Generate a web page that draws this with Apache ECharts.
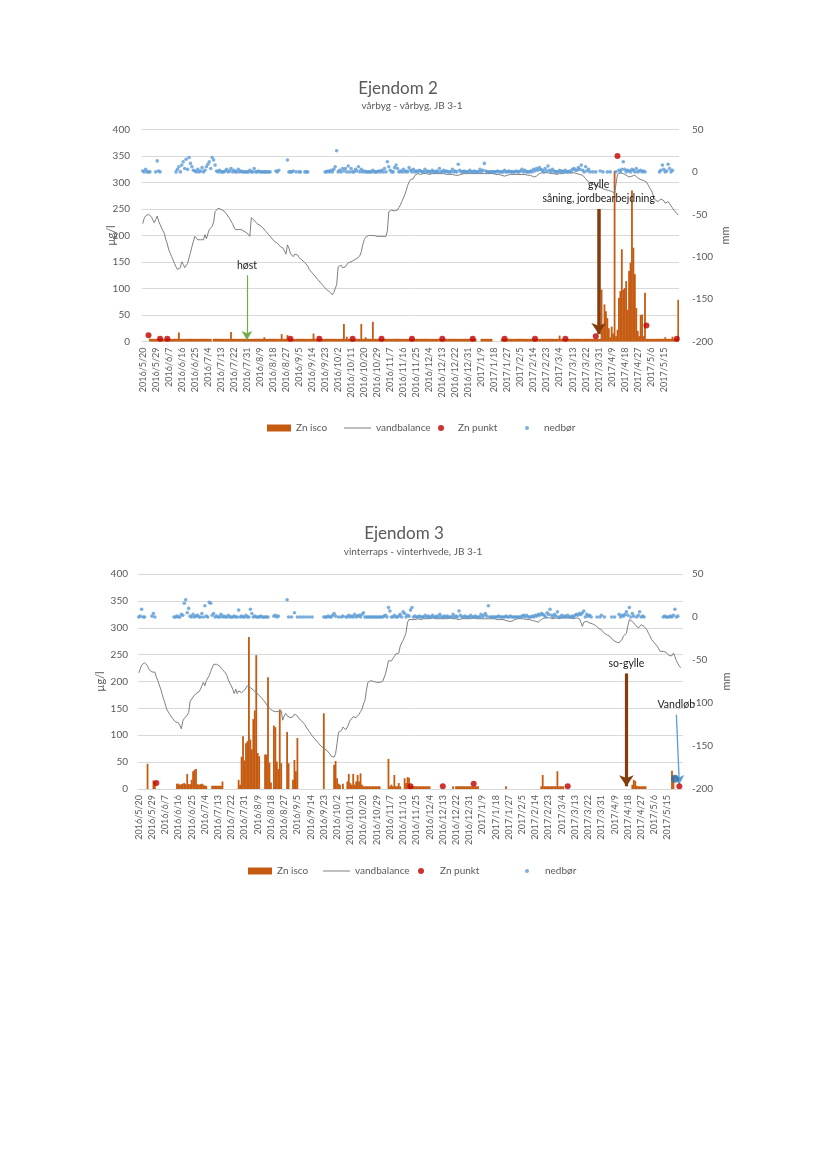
<!DOCTYPE html>
<html>
<head>
<meta charset="utf-8">
<script src="https://cdn.jsdelivr.net/npm/echarts/dist/echarts.min.js"></script>
<style>
html,body{margin:0;padding:0;background:#ffffff;}
#chart{width:826px;height:1169px;}
</style>
</head>
<body>
<div id="chart"></div>
<script>
// ---------- categories (daily, 2016/5/20 ...) ----------
const dayCount = 371;
const labelStep = 9;
const lastLabelDay = 360;
const categories = (function () {
  const out = [];
  const d = new Date(Date.UTC(2016, 4, 20));
  for (let i = 0; i < dayCount; i++) {
    out.push(d.getUTCFullYear() + '/' + (d.getUTCMonth() + 1) + '/' + d.getUTCDate());
    d.setUTCDate(d.getUTCDate() + 1);
  }
  return out;
})();

// ---------- Ejendom 2 ----------
const znIsco2 = [
null,null,null,null,null,5,5,5,5,5,
5,5,5,5,5,5,5,5,5,5,
5,5,5,5,5,17,5,5,5,5,
5,5,5,5,5,5,5,5,5,5,
5,5,5,5,5,5,5,5,null,5,
5,5,5,5,5,5,5,5,5,5,
5,18,5,5,5,5,5,5,5,5,
5,5,5,5,5,5,5,5,5,5,
5,5,5,5,8,5,5,5,5,5,
5,5,5,5,5,5,14,5,5,5,
12,5,5,5,5,5,5,5,5,5,
5,5,5,5,5,5,5,5,15,5,
5,5,5,5,5,5,5,5,5,5,
5,5,5,5,5,5,5,5,5,33,
5,9,5,5,5,5,5,5,5,5,
5,33,5,5,8,5,5,5,5,37,
5,5,5,5,5,5,5,5,5,5,
5,5,5,5,5,5,5,5,5,5,
5,5,5,5,5,5,5,5,5,5,
5,5,5,5,5,5,5,5,5,5,
5,5,5,5,5,5,5,5,5,5,
5,5,5,5,5,5,5,5,5,5,
5,5,5,5,5,5,5,5,5,5,
5,null,null,null,5,5,5,5,5,5,
5,5,null,null,null,null,null,null,5,5,
5,5,5,5,5,5,5,5,5,5,
5,5,5,5,5,5,5,5,5,5,
5,5,5,5,5,5,5,5,5,5,
5,5,5,5,5,5,5,5,11,5,
5,5,5,5,5,5,5,5,5,5,
5,5,5,5,5,5,5,5,5,5,
5,5,5,5,5,5,5,98,30,70,
57,44,25,8,28,15,322,10,22,82,
95,174,98,101,114,60,133,149,285,177,
127,63,20,10,50,51,10,92,5,5,
5,5,5,5,5,5,5,5,5,5,
5,8,5,5,5,5,9,5,5,5,79
];
const vandbalance2 = [
-61,-55,-52,-50,-50,-51,-53,-55,-60,-56,
-52,-58,-62,-66,-68,-73,-80,-85,-92,-96,
-100,-104,-108,-112,-115,-117,-113,-106,-109,-113,
-115,-108,-101,-95,-88,-82,-76,-78,-80,-80,
-80,-79,-80,-74,-79,-73,-68,-66,-64,-59,
-47,-45,-43,-43,-44,-45,-46,-47,-50,-52,
-55,-58,-61,-65,-68,-66,-68,-70,-68,-68,
-70,-70,-72,-74,-76,-54,-55,-57,-59,-61,
-62,-63,-64,-66,-68,-70,-72,-74,-76,-78,
-80,-82,-83,-84,-86,-88,-88,-90,-92,-97,
-86,-90,-96,-98,-100,-97,-96,-98,-101,-102,
-104,-106,-107,-109,-111,-115,-117,-119,-121,-123,
-125,-127,-129,-131,-133,-135,-137,-139,-141,-141,
-143,-145,-142,-140,-133,-112,-110,-110,-113,-115,
-112,-110,-107,-105,-106,-105,-104,-103,-102,-101,
-99,-94,-86,-80,-77,-75,-75,-75,-75,-75,
-75,-75,-76,-76,-76,-76,-76,-76,-76,-70,
-47,-46,-45,-45,-46,-46,-45,-42,-39,-35,
-31,-27,-22,-16,-12,-9,-9,-8,-4,-3,
-2,-2,-3,-2,-2,-1,-2,-2,-3,-2,
-2,-2,-2,-3,-2,-2,-2,-2,-2,-3,
-3,-3,-3,-3,-3,-3,-4,-4,-4,-4,
-3,-3,-2,-2,-2,-2,-2,-2,-2,-2,
-2,-2,-2,-2,-2,-3,-2,-2,-2,-2,
-2,-2,-2,-3,-3,-3,-3,-3,-4,-5,
-5,-5,-4,-3,-3,-3,-3,-3,-3,-3,
-3,-3,-3,-3,-3,-3,-4,-4,-4,-5,
-6,-6,-5,-3,-2,-1,-1,-1,-1,-1,
-1,-1,-2,-2,-2,-3,-3,-2,-2,-3,
-2,-1,-1,0,-1,-2,-1,0,-1,-2,
-2,-2,-3,-3,-4,-6,-8,-10,-12,-13,
-14,-14,-15,-15,-16,-17,-18,-19,-20,-20,
-21,-21,-22,-23,-23,-24,-25,-14,-3,-1,
-1,-2,-2,-3,-4,-5,-6,-6,-5,-5,
-4,-5,-7,-8,-9,-10,-10,-11,-12,-15,
-18,-21,-24,-30,-33,-34,-35,-33,-32,-31,
-34,-37,-36,-35,-37,-40,-42,-45,-47,-49,-51
];
const znPunkt2 = [[4,12],[12,5],[17,5],[102,5],[122,5],[145,5],[165,5],[186,5],[207,5],[228,5],[250,5],[271,5],[292,5],[313,10],[328,350],[348,30],[369,5]];
const nedbor2 = [
1,0,3,0,0,0,null,null,null,0,
13,1,0,null,null,null,null,null,null,null,
null,null,null,0,3,6,0,8,12,4,
15,3,17,10,6,2,1,0,3,0,
1,5,0,2,6,9,12,4,17,14,
8,1,0,2,0,0,0,1,3,0,
1,4,0,2,0,0,3,0,1,0,
0,0,0,0,2,0,0,4,0,0,
1,0,0,0,0,0,0,0,0,null,
null,null,1,0,2,null,null,null,null,null,
14,0,0,0,1,null,0,null,0,0,
null,null,0,0,0,null,null,null,null,null,
null,null,null,null,null,null,0,0,1,0,
2,0,3,6,25,0,2,0,4,1,
4,0,7,0,4,0,0,3,1,6,
0,3,0,1,0,0,0,0,0,2,
0,0,0,1,0,2,0,4,0,12,
6,2,0,0,5,8,4,0,1,0,
3,0,1,0,5,2,0,3,0,1,
0,2,1,0,0,3,0,1,0,0,
2,0,0,1,0,4,0,0,2,0,
1,0,0,0,3,0,1,0,9,2,
0,0,1,0,0,0,2,0,0,1,
0,0,0,3,0,2,10,1,0,0,
0,0,0,0,0,1,0,0,0,0,
2,0,0,1,0,0,0,0,1,0,
0,1,3,0,2,0,0,0,1,0,
3,1,4,2,5,3,2,0,4,1,
7,2,0,3,1,0,0,0,2,0,
1,0,2,0,0,1,0,3,4,2,
2,5,3,8,2,0,6,1,3,0,
null,0,null,0,null,null,1,null,0,null,
null,0,null,0,null,null,null,0,null,2,
0,3,12,3,0,2,1,0,3,2,
0,4,0,1,2,0,1,0,null,null,
null,null,null,null,null,null,null,0,2,8,
3,0,1,9,4,0,2,null,null,null,null
];

// ---------- Ejendom 3 ----------
const znIsco3 = [
null,null,null,null,null,null,47,null,null,null,
16,14,null,null,null,null,null,null,null,null,
null,null,null,null,null,null,10,10,8,9,
10,11,9,28,9,9,17,33,36,37,
9,8,9,10,8,6,6,null,null,null,
6,6,6,6,6,6,6,14,null,null,
null,null,null,null,null,null,null,null,17,8,
60,98,53,85,89,283,92,74,130,146,
249,67,61,null,null,null,64,64,208,49,
12,null,118,115,51,37,148,48,null,null,
null,106,48,null,null,17,54,33,95,null,
null,null,null,null,null,null,null,null,null,null,
null,null,null,null,null,null,141,null,null,null,
null,null,null,45,52,20,10,8,null,10,
null,null,14,28,11,8,28,8,14,26,
14,29,8,5,5,5,5,5,5,5,
5,5,5,5,5,null,null,null,null,null,
56,5,8,5,26,5,5,11,5,null,
null,20,11,22,21,5,5,5,5,5,
5,5,5,5,5,5,5,5,5,null,
null,null,null,null,null,null,null,null,null,null,
null,null,null,null,5,null,5,5,5,5,
5,5,5,5,5,5,5,5,5,5,
5,5,null,null,null,null,null,null,null,null,
null,null,null,null,null,null,null,null,null,null,
5,null,null,null,null,null,null,null,null,null,
null,null,null,null,null,null,null,null,null,null,
null,null,null,null,5,26,5,5,5,5,
5,5,5,5,5,33,5,5,5,5,
null,null,null,null,null,null,null,null,null,null,
null,null,null,null,null,null,null,null,null,null,
null,null,null,null,null,null,null,null,null,null,
null,null,null,null,null,null,null,null,null,null,
null,null,null,null,null,null,8,17,15,6,
5,5,5,5,5,5,null,null,null,null,
null,null,null,null,null,null,null,null,null,null,
null,null,null,34,23,null,null,null,null,null,null
];
const vandbalance3 = [
-65,-63,-56,-54,-53,-55,-57,-61,-63,-64,
-63,-64,-70,-74,-79,-84,-90,-96,-101,-107,
-110,-113,-115,-118,-120,-122,-121,-123,-126,-130,
-121,-118,-116,-114,-111,-98,-96,-93,-95,-89,
-88,-87,-84,-80,-76,-80,-74,-71,-68,-63,
-59,-55,-55,-55,-56,-57,-58,-61,-63,-65,
-68,-73,-77,-80,-84,-89,-84,-89,-86,-85,
-88,-86,-85,-84,-80,-81,-82,-84,-85,-87,
-88,-90,-91,-93,-95,-97,-99,-102,-104,-106,
-107,-109,-110,-110,-110,-110,-109,-109,-120,-115,
-112,-115,-117,-117,-116,-116,-113,-113,-115,-118,
-119,-121,-122,-125,-128,-130,-133,-135,-138,-140,
-142,-144,-146,-148,-150,-151,-153,-154,-155,-157,
-159,-162,-163,-163,-159,-147,-134,-133,-132,-128,
-129,-131,-128,-126,-120,-118,-116,-118,-117,-116,
-113,-110,-107,-101,-97,-85,-76,-74,-74,-74,
-75,-75,-76,-76,-76,-75,-75,-74,-66,-59,
-51,-51,-51,-49,-46,-43,-42,-42,-34,-30,
-27,-23,-18,-6,-3,-1,-3,-3,-3,-3,
-2,-2,-3,-2,-2,-3,-2,-2,-2,-2,
-1,-2,-2,-3,-2,-2,-2,-2,-2,-2,
-2,-2,-1,-2,-2,-2,-2,-2,-3,-2,
-2,-2,-2,-2,-2,-2,-2,-2,-1,-2,
-2,-2,-2,-2,-2,-2,-2,-2,-2,-2,
-2,-2,-2,-3,-3,-3,-3,-3,-3,-3,
-4,-5,-5,-6,-5,-4,-3,-2,-2,-2,
-2,-2,-2,-2,-3,-3,-3,-3,-4,-4,
-5,-5,-6,-5,-3,-2,-1,-1,-1,-1,
-1,-1,-2,-2,-1,-1,-2,-2,-1,-1,
-1,-2,-1,-1,-1,-2,-2,-1,-1,-1,
-2,-6,-11,-6,-4,-5,-6,-7,-7,-8,
-9,-10,-11,-13,-14,-15,-17,-19,-20,-21,
-22,-23,-25,-27,-28,-29,-30,-30,-30,-26,
-22,-21,-19,-10,-3,-4,-5,-7,-9,-11,
-13,-11,-9,-10,-11,-12,-15,-19,-22,-26,
-28,-30,-32,-34,-37,-40,-42,-40,-38,-41,
-43,-45,-47,-45,-42,-46,-51,-54,-57,-59,null
];
const znPunkt3 = [[12,11],[185,5],[207,5],[228,10],[292,5],[368,5]];
const vandlob3 = [[365,19]];
const nedbor3 = [
0,1,9,0,0,null,null,null,null,1,
4,0,null,null,null,null,null,null,null,null,
null,null,null,null,0,0,1,0,0,3,
2,16,20,5,10,1,0,3,0,1,
2,0,0,4,0,13,1,0,17,16,
2,4,0,1,0,0,3,0,1,0,
0,2,0,0,0,1,0,0,8,0,
1,0,0,2,0,0,9,4,0,1,
0,0,0,1,0,0,0,0,0,null,
null,null,1,2,0,1,null,null,null,null,
null,20,0,null,0,null,5,null,0,null,
0,null,0,null,0,null,0,null,0,null,
null,null,null,null,null,null,0,0,0,1,
0,0,2,4,1,null,0,null,0,1,
null,0,0,2,0,1,0,3,0,1,
2,0,3,5,0,0,0,0,0,0,
0,0,0,0,0,0,0,1,2,0,
11,7,0,0,2,0,0,1,3,0,
6,4,0,2,1,8,11,0,1,0,
0,1,0,0,0,2,0,1,0,0,
2,0,0,1,0,3,0,0,1,0,
1,0,0,0,3,0,1,0,7,2,
0,0,1,0,0,0,2,0,0,1,
0,0,0,3,0,2,4,1,13,0,
0,0,0,0,0,1,0,0,0,0,
1,0,0,1,0,0,0,0,0,0,
0,1,2,0,2,0,0,0,1,0,
2,1,3,2,4,3,2,0,5,3,
9,2,0,3,1,6,0,0,2,0,
1,0,2,0,0,1,0,2,3,2,
4,3,5,7,0,3,1,2,0,null,
null,null,0,null,0,2,null,0,null,null,
null,null,0,null,0,null,null,3,0,2,
1,3,6,2,11,0,4,1,null,0,
2,6,0,1,0,null,null,null,null,null,
null,null,null,null,null,null,null,0,1,0,
0,0,1,0,2,9,0,1,null,null,null
];

// ---------- texts / annotations (data coordinates) ----------
const titles = ['Ejendom 2', 'Ejendom 3'];
const subtitles = ['vårbyg - vårbyg, JB 3-1', 'vinterraps - vinterhvede, JB 3-1'];
const seriesNames = ['Zn isco', 'vandbalance', 'Zn punkt', 'nedbør'];
const leftAxisName = 'µg/l';
const rightAxisName = 'mm';
const notes2 = [
  { text: 'høst', day: 72, dayTo: 72, from: 125, to: 3 },
  { text: 'gylle\nsåning, jordbearbejdning', day: 315, dayTo: 315, from: 250, to: 14 }
];
const notes3 = [
  { text: 'so-gylle', day: 332, dayTo: 332, from: 215, to: 5 },
  { text: 'Vandløb', day: 366, dayTo: 368, from: 138, to: 9 }
];

// ---------- checks ----------
[['znIsco2', znIsco2], ['vandbalance2', vandbalance2], ['nedbor2', nedbor2],
 ['znIsco3', znIsco3], ['vandbalance3', vandbalance3], ['nedbor3', nedbor3]].forEach(function (p) {
  if (p[1].length !== dayCount) throw new Error(p[0] + ' length ' + p[1].length);
});

// ---------- styles ----------
const FONT = 'Lato, "Open Sans", "DejaVu Sans", sans-serif';
const C_BAR = '#C55A11', C_LINE = '#7F7F7F', C_RED = '#C00000', C_BLUE = '#5B9BD5';
const noteStyles2 = [
  { color: '#70AD47', width: 1.2, arrow: [8, 9] },
  { color: '#843C0C', width: 3.5, arrow: [11, 11] }
];
const noteStyles3 = [
  { color: '#843C0C', width: 3.2, arrow: [11, 11] },
  { color: '#5B9BD5', width: 1.3, arrow: [8, 9] }
];

function pairs(list) { return list.map(function (p) { return [categories[p[0]], p[1]]; }); }
function seriesPoints(arr) {
  const out = [];
  arr.forEach(function (v, i) { if (v !== null) out.push([categories[i], v]); });
  return out;
}
function noteLines(notes, styles) {
  return notes.map(function (n, k) {
    const st = styles[k];
    return [
      { coord: [categories[n.day], n.from], symbol: 'none',
        lineStyle: { color: st.color, width: st.width, type: 'solid' },
        label: { show: true, position: 'start', formatter: n.text, color: '#1a1a1a',
                 fontSize: 10.5, fontFamily: FONT, distance: 3, lineHeight: 14, align: 'center' } },
      { coord: [categories[n.dayTo], n.to], symbol: 'arrow', symbolSize: st.arrow }
    ];
  });
}

const grids = [
  { left: 142, top: 129.5, width: 537, height: 212 },
  { left: 138, top: 574, width: 545, height: 215 }
];

function xAxisFor(g) {
  return {
    type: 'category', gridIndex: g, data: categories, boundaryGap: true,
    axisLine: { lineStyle: { color: '#D9D9D9' } },
    axisTick: { show: false },
    axisLabel: {
      interval: function (i) { return i % labelStep === 0 && i <= lastLabelDay; },
      rotate: 90, fontSize: 9, color: '#595959', margin: 6, fontFamily: FONT
    },
    splitLine: { show: false }
  };
}
function leftAxisFor(g, gap, margin) {
  return {
    type: 'value', gridIndex: g, min: 0, max: 400, interval: 50,
    name: leftAxisName, nameLocation: 'middle', nameRotate: 90, nameGap: gap, nameMoveOverlap: false,
    nameTextStyle: { fontSize: 11, color: '#595959', fontFamily: FONT },
    axisLine: { show: false }, axisTick: { show: false },
    axisLabel: { fontSize: 10, color: '#595959', margin: margin, fontFamily: FONT },
    splitLine: { lineStyle: { color: '#D9D9D9', width: 1 } }
  };
}
function rightAxisFor(g, gap, margin) {
  return {
    type: 'value', gridIndex: g, position: 'right', min: -200, max: 50, interval: 50,
    name: rightAxisName, nameLocation: 'middle', nameRotate: 90, nameGap: gap, nameMoveOverlap: false,
    nameTextStyle: { fontSize: 11, color: '#595959', fontFamily: FONT },
    axisLine: { show: false }, axisTick: { show: false },
    axisLabel: { fontSize: 10, color: '#595959', margin: margin, fontFamily: FONT },
    splitLine: { show: false }
  };
}

function chartSeries(g, zn, vb, punkt, ned, notes, styles) {
  const xi = g, yl = g * 2, yr = g * 2 + 1;
  return [
    { name: seriesNames[0], type: 'bar', xAxisIndex: xi, yAxisIndex: yl, data: zn,
      itemStyle: { color: C_BAR }, barWidth: 1.8, z: 2, animation: false },
    { name: seriesNames[1], type: 'line', xAxisIndex: xi, yAxisIndex: yr, data: vb,
      symbol: 'none', showSymbol: false, lineStyle: { color: C_LINE, width: 1 }, itemStyle: { color: C_LINE },
      connectNulls: false, z: 3, animation: false },
    { name: seriesNames[2], type: 'scatter', xAxisIndex: xi, yAxisIndex: yl, data: pairs(punkt),
      symbolSize: 6, itemStyle: { color: C_RED }, z: 5, animation: false,
      markLine: { silent: true, animation: false, symbol: ['none', 'arrow'],
                  data: noteLines(notes, styles), emphasis: { disabled: true } } },
    { name: seriesNames[3], type: 'scatter', xAxisIndex: xi, yAxisIndex: yr, data: seriesPoints(ned),
      symbolSize: 3.6, itemStyle: { color: C_BLUE }, z: 4, animation: false }
  ];
}

const series = [].concat(
  chartSeries(0, znIsco2, vandbalance2, znPunkt2, nedbor2, notes2, noteStyles2),
  chartSeries(1, znIsco3, vandbalance3, znPunkt3, nedbor3, notes3, noteStyles3),
  [{ name: 'Vandløb', type: 'scatter', xAxisIndex: 1, yAxisIndex: 2, data: pairs(vandlob3),
     symbolSize: 8, itemStyle: { color: '#2E6DA4' }, z: 6, animation: false }]
);

function legendItem(name, icon, color, left, top, w, h, padLeft) {
  return { data: [{ name: name, icon: icon, itemStyle: { color: color } }],
           left: left, top: top, itemWidth: w, itemHeight: h, itemGap: 0,
           selectedMode: false, padding: 0,
           textStyle: { fontSize: 10, color: '#595959', fontFamily: FONT, padding: [0, 0, 0, padLeft] } };
}
const legends = [
  legendItem(seriesNames[0], 'rect', C_BAR, 267, 423, 24, 7, 0),
  legendItem(seriesNames[1], 'rect', C_LINE, 344, 423, 27, 1, 0),
  legendItem(seriesNames[2], 'circle', C_RED, 438, 423, 6, 6, 9),
  legendItem(seriesNames[3], 'circle', C_BLUE, 525, 423, 4, 4, 10),
  legendItem(seriesNames[0], 'rect', C_BAR, 248, 866, 24, 7, 0),
  legendItem(seriesNames[1], 'rect', C_LINE, 323, 866, 27, 1, 0),
  legendItem(seriesNames[2], 'circle', C_RED, 418, 866, 6, 6, 11),
  legendItem(seriesNames[3], 'circle', C_BLUE, 525, 866, 4, 4, 11)
];

const graphic = [
  { type: 'text', x: 398, y: 89, style: { text: titles[0], fill: '#595959', font: '17px ' + FONT, align: 'center', verticalAlign: 'middle' } },
  { type: 'text', x: 412, y: 106, style: { text: subtitles[0], fill: '#595959', font: '10px ' + FONT, align: 'center', verticalAlign: 'middle' } },
  { type: 'text', x: 404, y: 534, style: { text: titles[1], fill: '#595959', font: '17px ' + FONT, align: 'center', verticalAlign: 'middle' } },
  { type: 'text', x: 413, y: 552, style: { text: subtitles[1], fill: '#595959', font: '10px ' + FONT, align: 'center', verticalAlign: 'middle' } }
];

const chart = echarts.init(document.getElementById('chart'), null, { renderer: 'canvas' });
chart.setOption({
  backgroundColor: '#ffffff',
  animation: false,
  textStyle: { fontFamily: FONT },
  grid: grids,
  xAxis: [xAxisFor(0), xAxisFor(1)],
  yAxis: [leftAxisFor(0, 25, 12), rightAxisFor(0, 41, 13), leftAxisFor(1, 32, 10), rightAxisFor(1, 38, 9)],
  legend: legends,
  graphic: graphic,
  series: series
});
</script>
</body>
</html>
